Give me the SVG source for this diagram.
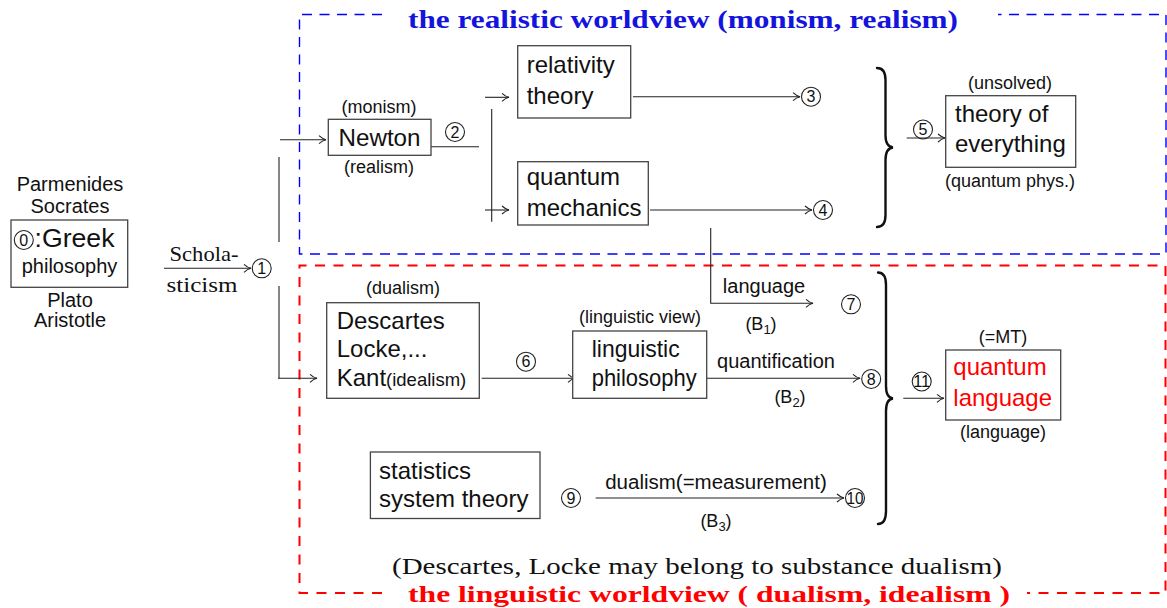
<svg xmlns="http://www.w3.org/2000/svg" width="1167" height="608" viewBox="0 0 1167 608">
<defs>
<marker id="arr" viewBox="0 0 10 10" refX="9.5" refY="5" markerWidth="10" markerHeight="10" markerUnits="userSpaceOnUse" orient="auto">
<path d="M2.5,1 Q6,4.2 9.5,5 Q6,5.8 2.5,9" fill="none" stroke="#222" stroke-width="1.1"/>
</marker>
</defs>
<style>
.box{fill:#fff;stroke:#444;stroke-width:1.3}
.ln{fill:none;stroke:#222;stroke-width:1.1}
.brace{fill:none;stroke:#111;stroke-width:2.4;stroke-linecap:round}
.sans{font-family:"Liberation Sans",Arial,sans-serif;fill:#111}
.big{font-size:24px}
.sm{font-size:18px}
.lb{font-size:20px}
.serif{font-family:"Liberation Serif","Times New Roman",serif;fill:#111}
.cn{fill:none;stroke:#222;stroke-width:1.1}
.cd{font-family:"Liberation Sans",Arial,sans-serif;font-size:16px;fill:#111;text-anchor:middle}
.mid{text-anchor:middle}
.red{fill:#ff0000}
</style>

<!-- frames -->
<g id="realistic-frame">
<path d="M382,14.5 H299.5 V254 H1166 V14.5 H998" fill="none" stroke="#0000ff" stroke-width="1.4" stroke-dasharray="10 7.5"/>
<text x="408" y="28" class="serif" font-size="25" font-weight="bold" style="fill:#1414dc" textLength="550" lengthAdjust="spacingAndGlyphs">the realistic worldview (monism, realism)</text>
</g>
<g id="linguistic-frame">
<path d="M382,593 H299.5 V265.5 H1165.5 V593 H1027" fill="none" stroke="#ff0000" stroke-width="2" stroke-dasharray="10 8.5"/>
<text x="408" y="601.5" class="serif" font-size="24" font-weight="bold" style="fill:#ff0000" textLength="602" lengthAdjust="spacingAndGlyphs">the linguistic worldview ( dualism, idealism )</text>
</g>

<!-- connectors -->
<g id="connectors">
<path class="ln" d="M164,268.3 H251" marker-end="url(#arr)"/>
<path class="ln" d="M279,157 V242"/>
<path class="ln" d="M279,286 V378.3"/>
<path class="ln" d="M280,139.7 H326" marker-end="url(#arr)"/>
<path class="ln" d="M278,378.3 H317" marker-end="url(#arr)"/>
<path class="ln" d="M431,146.7 H479"/>
<path class="ln" d="M491.7,109 V221.7"/>
<path class="ln" d="M485,97.3 H509" marker-end="url(#arr)"/>
<path class="ln" d="M485,210 H509" marker-end="url(#arr)"/>
<path class="ln" d="M633,96.7 H800" marker-end="url(#arr)"/>
<path class="ln" d="M650,210 H812" marker-end="url(#arr)"/>
<path class="ln" d="M906.7,138 H945" marker-end="url(#arr)"/>
<path class="ln" d="M710.7,228 V303.3 H813" marker-end="url(#arr)"/>
<path class="ln" d="M481.7,378.3 H575" marker-end="url(#arr)"/>
<path class="ln" d="M706.7,378.3 H860" marker-end="url(#arr)"/>
<path class="ln" d="M903.3,398.3 H944" marker-end="url(#arr)"/>
<path class="ln" d="M595.6,498 H844" marker-end="url(#arr)"/>
<path class="brace" d="M877,68 C883,68 885.5,72 885.5,80 L885.5,135 C885.5,143 888,147 893,147.5 C888,148 885.5,152 885.5,160 L885.5,215 C885.5,223 883,227 877,227"/>
<path class="brace" d="M878,272.5 C884,272.5 886,277 886,285 L886,386 C886,394 888.5,398 893,398.5 C888.5,399 886,403 886,411 L886,511 C886,519 884,524 878,524"/>
<text x="204" y="260.7" class="serif mid" font-size="22" textLength="69" lengthAdjust="spacingAndGlyphs">Schola-</text>
<text x="202" y="291.7" class="serif mid" font-size="22" textLength="71" lengthAdjust="spacingAndGlyphs">sticism</text>
<text x="764" y="293.3" class="sans lb mid">language</text>
<text x="761" y="330" class="sans sm mid">(B<tspan font-size="13" dy="4">1</tspan><tspan dy="-4">)</tspan></text>
<text x="776" y="368.3" class="sans lb mid">quantification</text>
<text x="790" y="403.3" class="sans sm mid">(B<tspan font-size="13" dy="4">2</tspan><tspan dy="-4">)</tspan></text>
<text x="716" y="489" class="sans mid" font-size="20.5">dualism(=measurement)</text>
<text x="716" y="527" class="sans sm mid">(B<tspan font-size="13" dy="4">3</tspan><tspan dy="-4">)</tspan></text>
</g>

<!-- circled numbers -->
<g id="n1"><circle class="cn" cx="261.7" cy="268.3" r="9.5"/><text class="cd" x="261.7" y="274">1</text></g>
<g id="n2"><circle class="cn" cx="455" cy="132" r="9.5"/><text class="cd" x="455" y="137.7">2</text></g>
<g id="n3"><circle class="cn" cx="811" cy="96.7" r="9.5"/><text class="cd" x="811" y="102.4">3</text></g>
<g id="n4"><circle class="cn" cx="823" cy="210" r="9.5"/><text class="cd" x="823" y="215.7">4</text></g>
<g id="n5"><circle class="cn" cx="923" cy="129.5" r="9.5"/><text class="cd" x="923" y="135.2">5</text></g>
<g id="n6"><circle class="cn" cx="526" cy="361.7" r="9.5"/><text class="cd" x="526" y="367.4">6</text></g>
<g id="n7"><circle class="cn" cx="851" cy="304.3" r="9.5"/><text class="cd" x="851" y="310">7</text></g>
<g id="n8"><circle class="cn" cx="871.2" cy="379" r="9.5"/><text class="cd" x="871.2" y="384.7">8</text></g>
<g id="n9"><circle class="cn" cx="571" cy="498" r="9.5"/><text class="cd" x="571" y="503.7">9</text></g>
<g id="n10"><circle class="cn" cx="855" cy="498" r="9.5"/><text class="cd" x="855" y="503.7" textLength="17" lengthAdjust="spacingAndGlyphs">10</text></g>
<g id="n11"><circle class="cn" cx="921.7" cy="381.5" r="9.5"/><text class="cd" x="921.7" y="387.2" textLength="17" lengthAdjust="spacingAndGlyphs">11</text></g>

<!-- nodes -->
<g id="greek">
<text x="70" y="190.7" class="sans mid" font-size="20">Parmenides</text>
<text x="70" y="213.3" class="sans mid" font-size="20">Socrates</text>
<rect class="box" x="11" y="220" width="116.7" height="67.3"/>
<circle class="cn" cx="23.8" cy="240" r="9.5"/><text class="cd" x="23.8" y="245.7">0</text>
<text x="34.5" y="247.3" class="sans" font-size="25" textLength="80" lengthAdjust="spacingAndGlyphs">:Greek</text>
<text x="69.5" y="273.3" class="sans mid" font-size="20">philosophy</text>
<text x="70" y="306.7" class="sans mid" font-size="20">Plato</text>
<text x="70" y="326.7" class="sans mid" font-size="20">Aristotle</text>
</g>

<g id="newton">
<text x="379" y="113" class="sans sm mid">(monism)</text>
<rect class="box" x="328.3" y="119.3" width="102.7" height="36"/>
<text x="379.5" y="146" class="sans big mid" textLength="82" lengthAdjust="spacingAndGlyphs">Newton</text>
<text x="379" y="173" class="sans sm mid">(realism)</text>
</g>

<g id="relativity">
<rect class="box" x="517.7" y="45.7" width="113" height="72.3"/>
<text x="526.7" y="73.3" class="sans big">relativity</text>
<text x="526.7" y="104" class="sans big">theory</text>
</g>

<g id="quantum-mechanics">
<rect class="box" x="517.7" y="161.7" width="130.6" height="63.3"/>
<text x="526.7" y="185" class="sans big">quantum</text>
<text x="526.7" y="216" class="sans big">mechanics</text>
</g>

<g id="toe">
<text x="1010" y="89" class="sans sm mid">(unsolved)</text>
<rect class="box" x="945.7" y="95.7" width="130" height="71.6"/>
<text x="955" y="121.7" class="sans big">theory of</text>
<text x="955" y="152" class="sans big">everything</text>
<text x="1010" y="187" class="sans sm mid">(quantum phys.)</text>
</g>

<g id="descartes">
<text x="403" y="294.3" class="sans sm mid">(dualism)</text>
<rect class="box" x="326.7" y="302.7" width="152.6" height="95.6"/>
<text x="336.7" y="329.3" class="sans big">Descartes</text>
<text x="336.7" y="357" class="sans big">Locke,...</text>
<text x="336.7" y="386" class="sans big">Kant<tspan font-size="18.5">(idealism)</tspan></text>
</g>

<g id="linguistic-philosophy">
<text x="640" y="323.3" class="sans sm mid">(linguistic view)</text>
<rect class="box" x="572.7" y="331" width="134" height="67.3"/>
<text x="591.7" y="356.7" class="sans big" textLength="88" lengthAdjust="spacingAndGlyphs">linguistic</text>
<text x="591.7" y="386" class="sans big" textLength="105" lengthAdjust="spacingAndGlyphs">philosophy</text>
</g>

<g id="quantum-language">
<text x="1003" y="343.3" class="sans sm mid">(=MT)</text>
<rect class="box" x="945.7" y="350" width="115" height="70"/>
<text x="953.3" y="375" class="sans big" style="fill:#ff0000">quantum</text>
<text x="953.3" y="405.7" class="sans big" style="fill:#ff0000">language</text>
<text x="1003" y="438.3" class="sans sm mid">(language)</text>
</g>

<g id="statistics">
<rect class="box" x="370.4" y="452" width="169.6" height="66.5"/>
<text x="379" y="479.3" class="sans big">statistics</text>
<text x="379" y="506.7" class="sans big">system theory</text>
</g>

<g id="note">
<text x="392" y="574" class="serif" font-size="23" textLength="610" lengthAdjust="spacingAndGlyphs">(Descartes, Locke may belong to substance dualism)</text>
</g>
</svg>
